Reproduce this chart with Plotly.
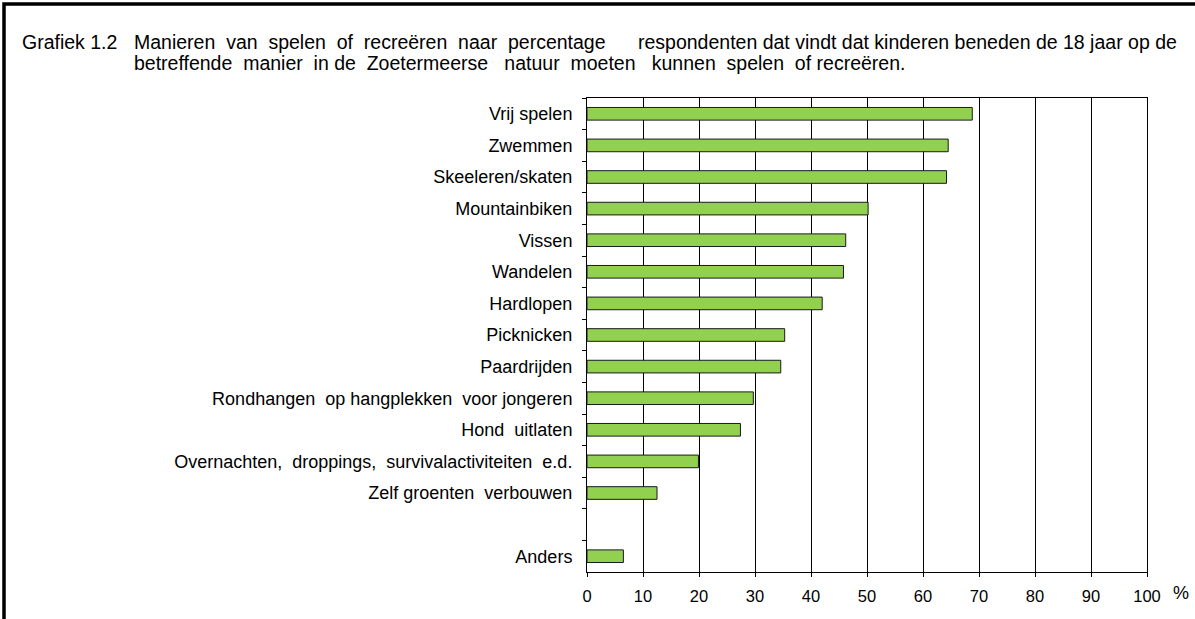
import plotly.graph_objects as go

# Data, top to bottom as drawn (blank slot before "Anders").
categories = [
    "Vrij spelen", "Zwemmen", "Skeeleren/skaten", "Mountainbiken", "Vissen",
    "Wandelen", "Hardlopen", "Picknicken", "Paardrijden",
    "Rondhangen  op hangplekken  voor jongeren", "Hond  uitlaten",
    "Overnachten,  droppings,  survivalactiviteiten  e.d.",
    "Zelf groenten  verbouwen", " ", "Anders",
]
values = [68.8, 64.5, 64.2, 50.2, 46.2, 45.8, 42.0, 35.3, 34.6, 29.7, 27.4, 19.9, 12.5, None, 6.5]
x_ticks = list(range(0, 101, 10))

title_label = "Grafiek 1.2"
title_1a = "Manieren  van  spelen  of  recreëren  naar  percentage"
title_1b = "respondenten dat vindt dat kinderen beneden de 18 jaar op de"
title_2 = "betreffende  manier  in de  Zoetermeerse   natuur  moeten   kunnen  spelen  of recreëren."

GREEN = "#92D050"
FONT = "Liberation Sans, Arial, sans-serif"

# plot area in pixels
L, R, T, B = 587, 1147, 98, 572
W, H = 1195, 619


def px(x):
    return (x - L) / (R - L)


def py(y):
    return (B - y) / (B - T)


fig = go.Figure()
fig.add_trace(go.Bar(
    x=values, y=categories, orientation="h",
    marker=dict(color=GREEN, line=dict(color="#1a1a1a", width=1)),
    width=0.4,
    hoverinfo="x+y",
))

fig.update_layout(
    width=W, height=H,
    margin=dict(l=L, r=W - R, t=T, b=H - B, autoexpand=False),
    paper_bgcolor="white", plot_bgcolor="white",
    font=dict(family=FONT, color="black", size=18),
    showlegend=False,
    xaxis=dict(
        range=[0, 100], tickvals=x_ticks, showgrid=True, gridcolor="black", gridwidth=1,
        showline=True, linecolor="black", linewidth=1, mirror=True,
        ticks="outside", ticklen=4, tickcolor="black", zeroline=False,
        tickfont=dict(size=16.5), ticklabelstandoff=5,
    ),
    yaxis=dict(
        type="category", categoryorder="array", categoryarray=categories,
        autorange="reversed", showline=True, linecolor="black", linewidth=1, mirror=True,
        ticks="outside", tickson="boundaries", ticklen=4, tickcolor="black",
        showgrid=False, tickfont=dict(size=18), ticklabelstandoff=10,
    ),
)

# outer frame
fig.add_shape(type="rect", xref="paper", yref="paper",
              x0=px(4), x1=px(1202), y0=py(4), y1=py(630),
              line=dict(color="black", width=3.5), fillcolor="rgba(0,0,0,0)", layer="below")

ann = dict(xref="paper", yref="paper", showarrow=False, yanchor="middle", font=dict(size=19.5))
fig.add_annotation(text=title_label, x=px(20), y=py(42), xanchor="left", **ann)
fig.add_annotation(text=title_1a, x=px(132), y=py(42), xanchor="left", **ann)
fig.add_annotation(text=title_1b, x=px(1179), y=py(42), xanchor="right", **ann)
fig.add_annotation(text=title_2, x=px(132), y=py(63), xanchor="left", **ann)
fig.add_annotation(text="%", x=px(1181), y=py(593), xanchor="center", **{**ann, "font": dict(size=18)})

fig.write_html("out.html", config={"displayModeBar": False},
               post_script="document.body.style.margin = '0';")
